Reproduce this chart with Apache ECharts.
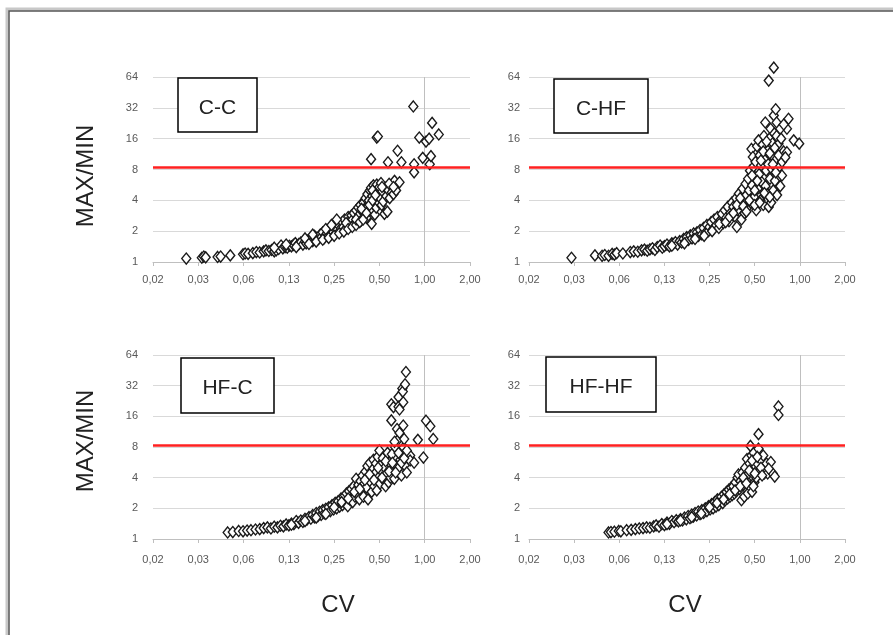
<!DOCTYPE html>
<html>
<head>
<meta charset="utf-8">
<script src="https://cdn.jsdelivr.net/npm/echarts@6/dist/echarts.min.js"></script>
<style>
    html, body { margin: 0; padding: 0; background: #fff; }
    #chart { width: 893px; height: 635px; }
</style>
</head>
<body>
<div id="chart"></div>
<script>
// tick labels (log2 axes)
const xTickLabels = ['0,02', '0,03', '0,06', '0,13', '0,25', '0,50', '1,00', '2,00'];
const yTickLabels = ['1', '2', '4', '8', '16', '32', '64'];
const panelNames = ['C-C', 'C-HF', 'HF-C', 'HF-HF'];
const threshold = 8.4;

// C-C
const ccCv = [0.026, 0.033, 0.034, 0.035, 0.042, 0.044, 0.051, 0.062, 0.064, 0.067, 0.072, 0.076, 0.080, 0.085, 0.088, 0.092, 0.096, 0.100, 0.103, 0.107,
    0.111, 0.114, 0.118, 0.122, 0.126, 0.130, 0.134, 0.138, 0.142, 0.146, 0.150, 0.155, 0.160, 0.163, 0.167, 0.172, 0.176, 0.180, 0.185, 0.188,
    0.192, 0.197, 0.202, 0.206, 0.210, 0.214, 0.219, 0.224, 0.228, 0.233, 0.238, 0.243, 0.247, 0.252, 0.256, 0.262, 0.267, 0.272, 0.278, 0.283,
    0.288, 0.293, 0.298, 0.304, 0.310, 0.316, 0.320, 0.326, 0.332, 0.338, 0.344, 0.350, 0.356, 0.362, 0.368, 0.374, 0.380, 0.386, 0.392, 0.398,
    0.404, 0.410, 0.416, 0.420, 0.426, 0.432, 0.436, 0.440, 0.440, 0.444, 0.448, 0.452, 0.456, 0.462, 0.466, 0.470, 0.476, 0.480, 0.480, 0.484,
    0.488, 0.490, 0.496, 0.500, 0.505, 0.512, 0.518, 0.524, 0.530, 0.540, 0.548, 0.556, 0.565, 0.570, 0.574, 0.585, 0.595, 0.605, 0.620, 0.630,
    0.645, 0.660, 0.680, 0.700, 0.840, 0.850, 0.850, 0.920, 0.970, 1.020, 1.070, 1.080, 1.100, 1.120, 1.240,
    0.10, 0.12, 0.14, 0.16, 0.17, 0.18, 0.19, 0.21, 0.22, 0.23, 0.24, 0.25, 0.26, 0.27, 0.29, 0.30, 0.31, 0.33, 0.35, 0.35,
    0.37, 0.38, 0.39, 0.41, 0.43, 0.45, 0.45, 0.47, 0.52, 0.58, 0.62];
const ccRatio = [1.08, 1.10, 1.13, 1.11, 1.12, 1.13, 1.16, 1.19, 1.21, 1.20, 1.22, 1.25, 1.24, 1.27, 1.30, 1.28, 1.31, 1.27, 1.30, 1.34,
    1.45, 1.36, 1.40, 1.38, 1.44, 1.42, 1.47, 1.53, 1.45, 1.50, 1.55, 1.48, 1.58, 1.52, 1.62, 1.56, 1.66, 1.60, 1.80, 1.64,
    1.72, 1.68, 1.85, 1.75, 1.95, 1.70, 1.82, 1.90, 1.78, 2.00, 1.86, 2.10, 1.95, 2.25, 1.90, 2.05, 2.30, 2.00, 2.15, 2.45,
    2.20, 2.60, 2.10, 2.35, 2.75, 2.50, 2.25, 2.85, 2.60, 3.00, 2.40, 3.20, 2.70, 3.40, 2.90, 3.60, 2.55, 3.10, 3.80, 3.30,
    4.20, 2.70, 4.60, 3.50, 4.00, 5.00, 3.20, 5.30, 10.1, 2.36, 4.40, 3.70, 5.60, 4.80, 2.90, 5.20, 3.40, 16.4, 5.70, 4.10,
    16.8, 4.60, 3.80, 5.40, 4.20, 5.90, 3.60, 4.90, 3.90, 2.95, 5.30, 4.40, 3.10, 9.4, 5.00, 4.20, 5.60, 4.80, 4.60, 6.20,
    5.00, 12.2, 6.00, 9.4, 33.0, 9.0, 7.5, 16.4, 10.4, 15.0, 16.0, 9.0, 10.8, 22.8, 17.6,
    1.38, 1.48, 1.40, 1.70, 1.50, 1.85, 1.58, 1.65, 2.10, 1.72, 2.30, 1.80, 2.60, 1.90, 1.98, 2.40, 2.10, 2.20, 2.30, 2.60,
    2.45, 3.30, 2.60, 3.00, 3.60, 4.00, 5.00, 4.50, 5.40, 5.80, 5.40];

// C-HF
const chCv = [0.030, 0.043, 0.048, 0.050, 0.053, 0.056, 0.058, 0.060, 0.066, 0.074, 0.078, 0.083, 0.088, 0.092, 0.096, 0.100, 0.104, 0.108, 0.112, 0.117,
    0.121, 0.125, 0.130, 0.135, 0.140, 0.143, 0.148, 0.153, 0.158, 0.163, 0.168, 0.172, 0.176, 0.181, 0.186, 0.191, 0.196, 0.201, 0.206, 0.211,
    0.216, 0.222, 0.228, 0.234, 0.240, 0.246, 0.250, 0.256, 0.262, 0.268, 0.275, 0.282, 0.288, 0.295, 0.302, 0.309, 0.316, 0.323, 0.330, 0.337,
    0.344, 0.352, 0.360, 0.368, 0.375, 0.380, 0.384, 0.392, 0.400, 0.408, 0.415, 0.420, 0.428, 0.435, 0.440, 0.446, 0.452, 0.458, 0.465, 0.470,
    0.476, 0.480, 0.486, 0.490, 0.495, 0.500, 0.506, 0.512, 0.518, 0.524, 0.530, 0.535, 0.540, 0.546, 0.552, 0.558, 0.565, 0.570, 0.576, 0.582,
    0.588, 0.590, 0.596, 0.602, 0.608, 0.610, 0.615, 0.620, 0.620, 0.626, 0.632, 0.638, 0.644, 0.650, 0.655, 0.660, 0.665, 0.670, 0.670, 0.676,
    0.682, 0.690, 0.695, 0.700, 0.705, 0.712, 0.720, 0.728, 0.740, 0.760, 0.760, 0.780, 0.820, 0.820, 0.840, 0.910, 0.990,
    0.14, 0.17, 0.20, 0.23, 0.26, 0.29, 0.32, 0.34, 0.36, 0.38, 0.40, 0.42, 0.44, 0.46, 0.48, 0.50, 0.50, 0.52, 0.54, 0.55,
    0.57, 0.58, 0.60, 0.63, 0.63, 0.66, 0.68, 0.69, 0.70, 0.72, 0.74, 0.75, 0.78, 0.80];
const chRatio = [1.10, 1.16, 1.15, 1.17, 1.15, 1.20, 1.18, 1.22, 1.21, 1.25, 1.27, 1.26, 1.30, 1.32, 1.29, 1.33, 1.36, 1.31, 1.40, 1.45,
    1.38, 1.43, 1.48, 1.42, 1.52, 1.50, 1.56, 1.48, 1.60, 1.55, 1.68, 1.58, 1.75, 1.64, 1.82, 1.70, 1.90, 1.76, 1.95, 1.80,
    2.05, 1.86, 2.15, 1.92, 2.30, 2.00, 2.20, 2.45, 2.08, 2.60, 2.25, 2.75, 2.15, 2.55, 2.95, 2.40, 3.20, 2.70, 3.45, 2.50,
    3.00, 3.80, 3.45, 2.80, 4.20, 2.20, 3.20, 4.65, 3.70, 2.60, 5.20, 4.10, 3.00, 5.80, 4.50, 3.40, 6.50, 5.00, 7.80, 3.80,
    12.7, 5.60, 10.6, 8.50, 4.30, 6.80, 9.50, 3.20, 13.5, 5.20, 15.4, 7.20, 11.0, 4.00, 8.80, 6.00, 14.0, 3.60, 17.0, 10.0,
    23.0, 5.50, 7.80, 12.0, 4.60, 12.3, 9.00, 59.0, 3.45, 16.0, 6.50, 20.0, 3.80, 11.0, 8.00, 14.5, 5.00, 79.0, 27.0, 18.0,
    6.20, 31.0, 10.0, 23.0, 4.50, 16.0, 14.3, 8.50, 5.50, 9.5, 7.0, 12.0, 20.0, 11.8, 25.0, 15.4, 14.3,
    1.44, 1.52, 1.68, 1.80, 2.00, 2.35, 2.45, 2.75, 3.00, 3.60, 4.20, 3.50, 3.10, 4.00, 7.00, 5.00, 3.60, 6.20, 3.80, 9.80,
    12.0, 4.70, 15.0, 11.5, 4.30, 9.00, 13.0, 7.50, 17.0, 11.0, 20.0, 16.0, 22.0, 10.5];

// HF-C
const hcCv = [0.049, 0.053, 0.058, 0.062, 0.066, 0.070, 0.075, 0.080, 0.085, 0.090, 0.095, 0.100, 0.105, 0.110, 0.115, 0.120, 0.125, 0.130, 0.135, 0.140,
    0.145, 0.150, 0.155, 0.160, 0.165, 0.170, 0.175, 0.180, 0.185, 0.190, 0.195, 0.200, 0.205, 0.210, 0.215, 0.220, 0.225, 0.230, 0.236, 0.242,
    0.248, 0.254, 0.260, 0.266, 0.272, 0.278, 0.284, 0.290, 0.296, 0.302, 0.308, 0.314, 0.320, 0.326, 0.332, 0.338, 0.344, 0.350, 0.356, 0.362,
    0.368, 0.374, 0.380, 0.386, 0.392, 0.398, 0.404, 0.410, 0.416, 0.420, 0.426, 0.432, 0.438, 0.444, 0.450, 0.456, 0.462, 0.468, 0.474, 0.480,
    0.486, 0.492, 0.500, 0.505, 0.510, 0.518, 0.526, 0.534, 0.542, 0.550, 0.558, 0.566, 0.575, 0.584, 0.592, 0.600, 0.600, 0.605, 0.612, 0.620,
    0.628, 0.636, 0.645, 0.655, 0.660, 0.665, 0.670, 0.670, 0.680, 0.690, 0.700, 0.710, 0.715, 0.720, 0.725, 0.730, 0.735, 0.750, 0.760, 0.780,
    0.800, 0.800, 0.850, 0.900, 0.980, 1.020, 1.090, 1.140,
    0.13, 0.16, 0.19, 0.22, 0.25, 0.28, 0.31, 0.34, 0.37, 0.40, 0.43, 0.46, 0.49, 0.52, 0.55, 0.58, 0.61, 0.64, 0.67, 0.70,
    0.73, 0.76, 0.68, 0.63, 0.72, 0.74];
const hcRatio = [1.16, 1.17, 1.20, 1.19, 1.21, 1.22, 1.24, 1.25, 1.28, 1.30, 1.27, 1.32, 1.30, 1.35, 1.33, 1.39, 1.36, 1.42, 1.40, 1.50,
    1.44, 1.52, 1.47, 1.58, 1.55, 1.64, 1.58, 1.72, 1.63, 1.80, 1.68, 1.85, 1.72, 1.92, 1.78, 1.98, 1.83, 2.05, 1.88, 2.15,
    1.95, 2.27, 2.00, 2.35, 2.08, 2.50, 2.15, 2.60, 2.25, 2.80, 2.10, 2.95, 2.40, 3.10, 2.30, 3.30, 2.60, 3.90, 2.80, 3.40,
    2.45, 3.70, 3.00, 4.20, 2.60, 3.50, 4.60, 3.20, 5.20, 2.45, 4.00, 5.60, 3.60, 2.90, 4.80, 6.00, 3.30, 4.40, 5.50, 3.00,
    6.40, 4.00, 7.40, 3.50, 5.30, 4.60, 6.20, 3.80, 5.00, 3.30, 4.40, 7.00, 3.60, 5.60, 4.00, 14.6, 21.0, 6.80, 4.80, 19.7,
    3.90, 8.00, 5.20, 12.0, 9.3, 4.90, 24.7, 19.9, 18.7, 6.00, 4.20, 30.0, 28.0, 13.0, 7.9, 9.6, 5.30, 43.6, 4.50, 6.40,
    6.6, 5.9, 5.6, 9.4, 6.3, 14.5, 12.8, 9.6,
    1.38, 1.50, 1.62, 1.76, 2.05, 2.30, 2.50, 2.90, 3.10, 3.80, 4.30, 3.80, 5.00, 4.00, 5.80, 4.60, 5.60, 4.50, 7.00, 5.60,
    6.20, 7.40, 11.0, 9.0, 22.0, 33.0];

// HF-HF
const hhCv = [0.053, 0.055, 0.058, 0.062, 0.064, 0.070, 0.075, 0.080, 0.085, 0.090, 0.095, 0.100, 0.106, 0.110, 0.115, 0.120, 0.125, 0.130, 0.135, 0.140,
    0.145, 0.150, 0.155, 0.160, 0.165, 0.170, 0.175, 0.180, 0.185, 0.190, 0.195, 0.200, 0.205, 0.210, 0.216, 0.222, 0.228, 0.234, 0.240, 0.246,
    0.252, 0.258, 0.264, 0.270, 0.276, 0.282, 0.288, 0.295, 0.300, 0.306, 0.312, 0.318, 0.324, 0.330, 0.336, 0.342, 0.348, 0.354, 0.360, 0.366,
    0.372, 0.378, 0.384, 0.390, 0.396, 0.402, 0.408, 0.414, 0.420, 0.426, 0.432, 0.438, 0.444, 0.450, 0.456, 0.462, 0.468, 0.470, 0.476, 0.480,
    0.486, 0.492, 0.498, 0.505, 0.512, 0.520, 0.530, 0.530, 0.540, 0.550, 0.570, 0.580, 0.600, 0.610, 0.640, 0.660, 0.680, 0.720, 0.720,
    0.13, 0.16, 0.19, 0.22, 0.25, 0.28, 0.31, 0.34, 0.37, 0.40, 0.42, 0.44, 0.46, 0.48, 0.49, 0.50, 0.52, 0.55, 0.56, 0.62];
const hhRatio = [1.16, 1.17, 1.18, 1.20, 1.19, 1.22, 1.23, 1.25, 1.27, 1.28, 1.30, 1.29, 1.33, 1.36, 1.32, 1.40, 1.37, 1.45, 1.41, 1.50,
    1.46, 1.53, 1.49, 1.57, 1.52, 1.62, 1.56, 1.68, 1.60, 1.74, 1.66, 1.80, 1.70, 1.86, 1.75, 1.92, 1.80, 2.00, 1.88, 2.10,
    1.95, 2.20, 2.00, 2.30, 2.08, 2.45, 2.15, 2.36, 2.60, 2.25, 2.75, 2.40, 2.90, 2.50, 3.05, 2.60, 3.20, 2.70, 3.30, 2.80,
    3.60, 2.95, 4.00, 4.30, 3.10, 3.70, 2.40, 4.50, 3.40, 2.60, 5.00, 3.80, 6.10, 2.80, 4.40, 5.50, 8.2, 3.20, 6.60, 2.90,
    4.80, 7.00, 3.60, 5.20, 4.00, 5.5, 10.7, 7.7, 4.60, 6.00, 6.6, 4.40, 5.5, 4.4, 5.7, 4.4, 4.1, 20.0, 16.5,
    1.40, 1.52, 1.64, 1.78, 2.05, 2.25, 2.45, 2.75, 3.00, 3.30, 4.00, 3.50, 4.70, 5.90, 3.30, 4.40, 6.40, 5.00, 4.20, 4.90];

const panels = [[ccCv, ccRatio], [chCv, chRatio], [hcCv, hcRatio], [hhCv, hhRatio]];

const grids = [
    { left: 153, top: 77, width: 317, height: 185 },
    { left: 529, top: 77, width: 316, height: 185 },
    { left: 153, top: 355, width: 317, height: 184 },
    { left: 529, top: 355, width: 316, height: 184 }
];
const yLabelMargin = [15, 9, 15, 9];
const xLabelMargin = [12, 12, 15, 15];

const font = 'Liberation Sans';

const xAxes = grids.map((g, i) => ({
    type: 'log',
    logBase: 2,
    gridIndex: i,
    min: 1 / 64,
    max: 2,
    axisLine: { show: true, onZero: false, lineStyle: { color: '#bfbfbf', width: 1 } },
    axisTick: { show: true, length: 4, lineStyle: { color: '#bfbfbf' } },
    splitLine: { show: false },
    axisLabel: {
        color: '#595959', fontSize: 11, fontFamily: font, margin: xLabelMargin[i],
        formatter: v => xTickLabels[Math.round(Math.log2(v)) + 6]
    }
}));

const yAxes = grids.map((g, i) => ({
    type: 'log',
    logBase: 2,
    gridIndex: i,
    min: 1,
    max: 64,
    axisLine: { show: false },
    axisTick: { show: false },
    splitLine: { show: true, lineStyle: { color: '#d9d9d9', width: 1 } },
    axisLabel: {
        color: '#595959', fontSize: 11, fontFamily: font, margin: yLabelMargin[i],
        formatter: v => yTickLabels[Math.round(Math.log2(v))]
    }
}));

let series = [];
panels.forEach((p, i) => {
    const data = p[0].map((cv, k) => [cv, p[1][k]]);
    series.push({
        type: 'scatter',
        xAxisIndex: i,
        yAxisIndex: i,
        data: data,
        clip: false,
        symbol: 'diamond',
        symbolSize: [9, 11],
        z: 3,
        itemStyle: { color: '#fff', borderColor: '#1a1a1a', borderWidth: 1.4, opacity: 1 },
        markLine: {
            silent: true,
            z: 1,
            symbol: 'none',
            label: { show: false },
            lineStyle: { color: '#bfbfbf', width: 1, type: 'solid' },
            data: [{ xAxis: 1 }]
        }
    });
    // red threshold line
    series.push({
        type: 'scatter',
        xAxisIndex: i,
        yAxisIndex: i,
        data: [],
        z: 6,
        markLine: {
            silent: true,
            symbol: 'none',
            label: { show: false },
            lineStyle: { color: '#ff2020', width: 2.5, type: 'solid' },
            data: [{ yAxis: threshold }]
        }
    });
});

// label boxes
const boxes = [
    { x: 178, y: 78, w: 79, h: 54 },
    { x: 554, y: 79, w: 94, h: 54 },
    { x: 181, y: 358, w: 93, h: 55 },
    { x: 546, y: 357, w: 110, h: 55 }
];

let graphics = [
    { type: 'rect', shape: { x: 7, y: 9, width: 1000, height: 1000 }, style: { fill: 'none', stroke: '#c8c8c8', lineWidth: 3 }, z: 10 },
    { type: 'rect', shape: { x: 9, y: 11, width: 1000, height: 1000 }, style: { fill: 'none', stroke: '#555', lineWidth: 1.5 }, z: 11 }
];
boxes.forEach((b, i) => {
    graphics.push({
        type: 'rect', shape: { x: b.x, y: b.y, width: b.w, height: b.h },
        style: { fill: '#fff', stroke: '#000', lineWidth: 1.5 }, z: 10
    });
    graphics.push({
        type: 'text', x: b.x + b.w / 2, y: b.y + b.h / 2 + 3, z: 11,
        style: { text: panelNames[i], fill: '#222', font: '21px "' + font + '"', textAlign: 'center', textVerticalAlign: 'middle' }
    });
});
[176, 441].forEach(cy => {
    graphics.push({
        type: 'text', x: 86, y: cy, rotation: Math.PI / 2, z: 11,
        style: { text: 'MAX/MIN', fill: '#222', font: '24px "' + font + '"', textAlign: 'center', textVerticalAlign: 'middle' }
    });
});
[338, 685].forEach(cx => {
    graphics.push({
        type: 'text', x: cx, y: 605, z: 11,
        style: { text: 'CV', fill: '#222', font: '24px "' + font + '"', textAlign: 'center', textVerticalAlign: 'middle' }
    });
});

const chart = echarts.init(document.getElementById('chart'), null, { renderer: 'canvas' });

const option = {
    backgroundColor: '#fff',
    animation: false,
    grid: grids,
    xAxis: xAxes,
    yAxis: yAxes,
    series: series,
    graphic: graphics
};

chart.setOption(option);
</script>
</body>
</html>
